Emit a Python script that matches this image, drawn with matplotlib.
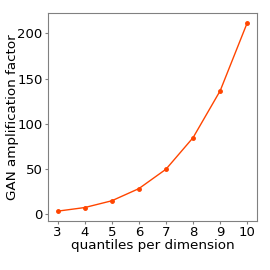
import matplotlib
matplotlib.use("Agg")
import matplotlib.pyplot as plt

# data
quantiles = [3, 4, 5, 6, 7, 8, 9, 10]
amplification = [3, 7, 14.5, 28, 49.5, 84.5, 136.5, 212]

fig = plt.figure(figsize=(2.7, 2.7), dpi=100)
ax = fig.add_axes([0.178, 0.183, 0.773, 0.768])
ax.plot(quantiles, amplification, color="orangered", lw=1, marker="o", ms=2.5)

ax.set_xticks(quantiles)
ax.set_yticks([0, 50, 100, 150, 200])
ax.set_xlabel("quantiles per dimension", fontsize=9.7, labelpad=0)
ax.set_ylabel("GAN amplification factor", fontsize=9.7)
ax.yaxis.set_label_coords(-0.14, 0.5)
ax.tick_params(labelsize=9.5, length=2.5, width=0.8, pad=1.5, color="gray")
for s in ax.spines.values():
    s.set_color("gray")

fig.savefig("out.png", dpi=100)
